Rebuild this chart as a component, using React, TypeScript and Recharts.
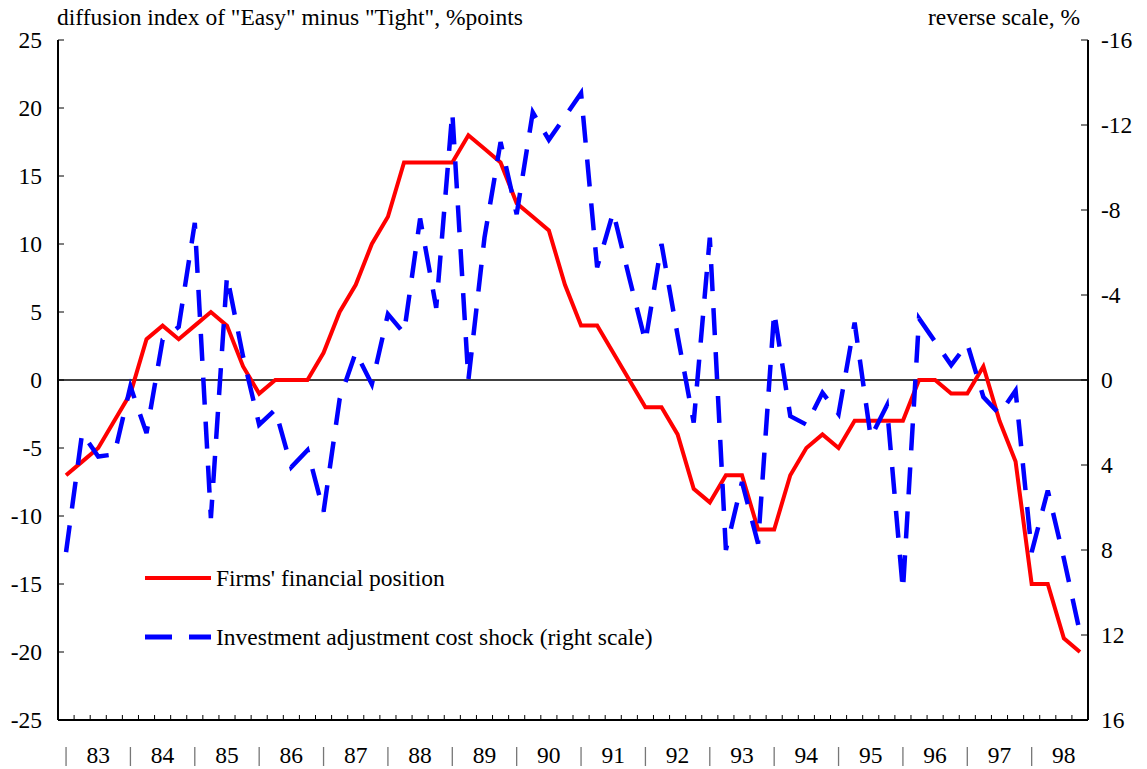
import React from "react";
import { LineChart, Line, XAxis, YAxis, ReferenceLine } from "recharts";

const years = ["83", "84", "85", "86", "87", "88", "89", "90", "91", "92", "93", "94", "95", "96", "97", "98"];
const quarters = years.flatMap((y) => ["Q1", "Q2", "Q3", "Q4"].map((q) => y + q));

// left scale, diffusion index
const firmsPosition = [
  -7, -6, -5, -3, -1, 3, 4, 3, 4, 5, 4, 1, -1, 0, 0, 0,
  2, 5, 7, 10, 12, 16, 16, 16, 16, 18, 17, 16, 13, 12, 11, 7,
  4, 4, 2, 0, -2, -2, -4, -8, -9, -7, -7, -11, -11, -7, -5, -4,
  -5, -3, -3, -3, -3, 0, 0, -1, -1, 1, -3, -6, -15, -15, -19, -20,
];

// right scale (reversed), %
const adjustmentShock = [
  8.1, 2.5, 3.6, 3.5, 0.3, 2.5, -1.9, -2.5, -7.4, 6.5, -4.9, -1.1, 2.1, 1.4, 4.1, 3.3,
  6.2, 0.9, -1.3, 0.2, -3.1, -2.2, -7.6, -3.4, -12.6, 0, -6.7, -11.2, -7.8, -12.6, -11.3, -12.4,
  -13.5, -5.3, -7.9, -4.8, -1.8, -6.4, -2.1, 2.0, -6.7, 8.0, 4.8, 7.7, -3.2, 1.7, 2.1, 0.6,
  1.6, -2.7, 2.7, 1.2, 9.9, -2.9, -1.8, -0.7, -1.7, 0.8, 1.6, 0.5, 8.1, 5.2, 8.4, 11.9,
];

const leftTicks = [-25, -20, -15, -10, -5, 0, 5, 10, 15, 20, 25];
const rightTicks = [-16, -12, -8, -4, 0, 4, 8, 12, 16];

const data = quarters.map((q, i) => ({
  q,
  firms: firmsPosition[i],
  shock: adjustmentShock[i],
}));

const FONT = '"Liberation Serif", "Times New Roman", serif';
const FS = 23.5;
const RED = "#ff0000";
const BLUE = "#0000ff";
const DASH = "27 17";

function QuarterTick(props: any) {
  const { x, y, payload, index } = props;
  const half = payload.offset || 8;
  const isQ1 = index % 4 === 0;
  return (
    <g>
      {index > 0 && (
        <line x1={x - half} x2={x - half} y1={y} y2={y - 5} stroke="#000" strokeWidth={1} />
      )}
      {isQ1 && <line x1={x} x2={x} y1={y + 27} y2={y + 46} stroke="#777" strokeWidth={1.3} />}
      {isQ1 && (
        <text x={x + half * 4} y={y + 43} textAnchor="middle" fontFamily={FONT} fontSize={FS} fill="#000">
          {String(payload.value).slice(0, 2)}
        </text>
      )}
    </g>
  );
}

function LeftTick(props: any) {
  const { x, y, payload } = props;
  return (
    <g>
      <line x1={x} x2={x + 6} y1={y} y2={y} stroke="#000" strokeWidth={1} />
      <text x={x - 16} y={y} dy="0.35em" textAnchor="end" fontFamily={FONT} fontSize={FS} fill="#000">
        {payload.value}
      </text>
    </g>
  );
}

function RightTick(props: any) {
  const { x, y, payload } = props;
  return (
    <g>
      <line x1={x - 7} x2={x} y1={y} y2={y} stroke="#000" strokeWidth={1} />
      <text x={x + 13} y={y} dy="0.35em" textAnchor="start" fontFamily={FONT} fontSize={FS} fill="#000">
        {payload.value}
      </text>
    </g>
  );
}

function LegendBox() {
  const row = { display: "flex", alignItems: "center", height: 30 } as const;
  return (
    <div
      style={{
        position: "absolute",
        left: 137,
        top: 555,
        fontFamily: FONT,
        fontSize: FS,
        color: "#000",
        whiteSpace: "nowrap",
      }}
    >
      <div style={row}>
        <svg width={71} height={10}>
          <line x1={0} x2={66} y1={5} y2={5} stroke={RED} strokeWidth={4} />
        </svg>
        <span>Firms' financial position</span>
      </div>
      <div style={{ ...row, marginTop: 29 }}>
        <svg width={71} height={10}>
          <line x1={0} x2={66} y1={5} y2={5} stroke={BLUE} strokeWidth={5} strokeDasharray={DASH} />
        </svg>
        <span>Investment adjustment cost shock (right scale)</span>
      </div>
    </div>
  );
}

export default function App() {
  return (
    <div style={{ position: "relative", width: 1131, height: 761, fontFamily: FONT }}>
      <div style={{ position: "absolute", left: 49, top: -2, fontSize: FS, lineHeight: "22px", whiteSpace: "nowrap" }}>
        diffusion index of "Easy" minus "Tight", %points
      </div>
      <div
        style={{
          position: "absolute",
          left: 0,
          width: 1072,
          top: -2,
          fontSize: FS,
          lineHeight: "22px",
          textAlign: "right",
          whiteSpace: "nowrap",
        }}
      >
        reverse scale, %
      </div>
      <LineChart width={1131} height={761} data={data} margin={{ top: 32, right: 0, bottom: 0, left: 0 }}>
        <XAxis
          dataKey="q"
          scale="band"
          interval={0}
          height={49}
          tickSize={0}
          tickMargin={0}
          tickLine={false}
          axisLine={{ stroke: "#000", strokeWidth: 2 }}
          tick={<QuarterTick />}
        />
        <XAxis
          xAxisId="top"
          dataKey="q"
          scale="band"
          orientation="top"
          height={0}
          tick={false}
          tickLine={false}
          axisLine={{ stroke: "#000", strokeWidth: 2 }}
        />
        <YAxis
          yAxisId="left"
          width={50}
          domain={[-25, 25]}
          ticks={leftTicks}
          interval={0}
          tickSize={0}
          tickMargin={0}
          tickLine={false}
          axisLine={{ stroke: "#000", strokeWidth: 2 }}
          tick={<LeftTick />}
        />
        <YAxis
          yAxisId="right"
          orientation="right"
          width={51}
          reversed
          domain={[-16, 16]}
          ticks={rightTicks}
          interval={0}
          tickSize={0}
          tickMargin={0}
          tickLine={false}
          axisLine={{ stroke: "#000", strokeWidth: 2 }}
          tick={<RightTick />}
        />
        <ReferenceLine yAxisId="left" y={0} stroke="#000" strokeWidth={1.3} />
        <Line
          yAxisId="left"
          type="linear"
          dataKey="firms"
          stroke={RED}
          strokeWidth={4}
          dot={false}
          isAnimationActive={false}
        />
        <Line
          yAxisId="right"
          type="linear"
          dataKey="shock"
          stroke={BLUE}
          strokeWidth={4.5}
          strokeDasharray={DASH}
          dot={false}
          isAnimationActive={false}
        />
      </LineChart>
      <LegendBox />
    </div>
  );
}
